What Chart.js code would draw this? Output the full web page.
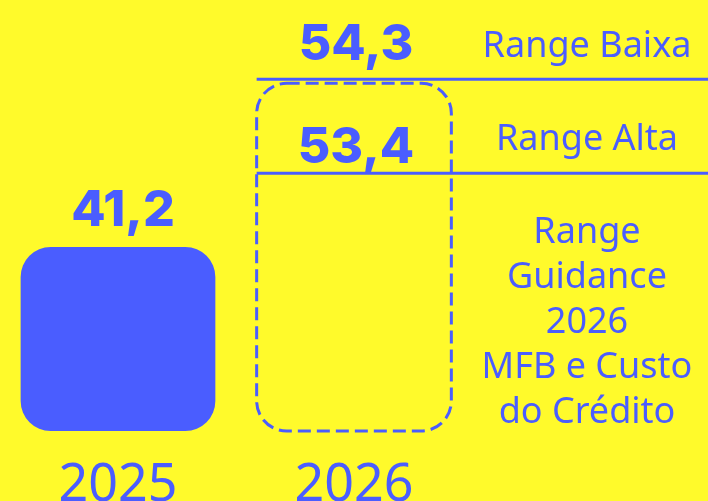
<!DOCTYPE html>
<html>

<head>
    <title>Guidance 2026</title>
    <script src="https://cdn.jsdelivr.net/npm/chart.js"></script>
    <style>
        body {
            margin: 0;
            background: #FFFA2B;
        }

        .chart-box {
            width: 708px;
            height: 501px;
        }
    </style>
</head>

<body>
    <div class="chart-box">
        <canvas id="chart"></canvas>
    </div>

    <script>
        // data
        const categories = ['2025', '2026', ''];
        const actual2025 = [41.2, null, null];
        const guidance2026 = [null, 54.3, null];
        const rangeValues = [54.3, 53.4];
        const rangeLabels = ['Range Baixa', 'Range Alta'];
        const noteLines = ['Range', 'Guidance', '2026', 'MFB e Custo', 'do Crédito'];

        const BLUE = '#4A5DFF';
        const Y2_MIN = 50.93;
        const Y2_MAX = 55.06;

        const fmt = v => v.toLocaleString('pt-BR', { minimumFractionDigits: 1, maximumFractionDigits: 1 });

        const overlay = {
            id: 'overlay',
            afterDatasetsDraw(chart) {
                const ctx = chart.ctx;
                const area = chart.chartArea;
                const y2 = chart.scales.y2;
                const x = chart.scales.x;

                // dashed guidance box
                const box = chart.getDatasetMeta(1).data[1];
                const left = box.x - box.width / 2;
                const right = box.x + box.width / 2;
                const top = box.y + 4;
                const bottom = box.base;
                ctx.save();
                ctx.strokeStyle = BLUE;
                ctx.lineWidth = 3;
                ctx.setLineDash([13, 6]);
                ctx.beginPath();
                ctx.roundRect(left, top, right - left, bottom - top, 30);
                ctx.stroke();
                ctx.restore();

                // range lines
                ctx.save();
                ctx.strokeStyle = BLUE;
                ctx.lineWidth = 3;
                rangeValues.forEach(v => {
                    const py = y2.getPixelForValue(v);
                    ctx.beginPath();
                    ctx.moveTo(left, py);
                    ctx.lineTo(chart.width, py);
                    ctx.stroke();
                });
                ctx.restore();

                ctx.save();
                ctx.fillStyle = BLUE;
                ctx.textAlign = 'center';
                ctx.textBaseline = 'middle';

                // value labels
                ctx.font = '800 50px Inter, "DejaVu Sans", sans-serif';
                const bar = chart.getDatasetMeta(0).data[0];
                ctx.fillText(fmt(actual2025[0]), bar.x + 5, bar.y - 36);
                ctx.fillText(fmt(rangeValues[0]), box.x + 2, y2.getPixelForValue(rangeValues[0]) - 34);
                ctx.fillText(fmt(rangeValues[1]), box.x + 2, y2.getPixelForValue(rangeValues[1]) - 25);

                // right column labels
                const cx = x.getPixelForValue(2) - 3;
                ctx.font = '36px "Noto Sans", sans-serif';
                rangeValues.forEach((v, i) => {
                    ctx.fillText(rangeLabels[i], cx, y2.getPixelForValue(v) - 33);
                });
                const mid = (y2.getPixelForValue(rangeValues[1]) + area.bottom) / 2 + 21;
                const step = 45;
                noteLines.forEach((t, i) => {
                    ctx.fillText(t, cx, mid + (i - (noteLines.length - 1) / 2) * step);
                });
                ctx.restore();
            }
        };

        new Chart(document.getElementById('chart'), {
            type: 'bar',
            data: {
                labels: categories,
                datasets: [{
                    label: '2025',
                    data: actual2025,
                    yAxisID: 'y',
                    backgroundColor: BLUE,
                    borderWidth: 0,
                    borderRadius: 30,
                    borderSkipped: false
                }, {
                    label: 'Guidance 2026',
                    data: guidance2026,
                    yAxisID: 'y2',
                    base: Y2_MIN,
                    backgroundColor: 'rgba(0,0,0,0)',
                    borderWidth: 0
                }]
            },
            options: {
                responsive: true,
                maintainAspectRatio: false,
                animation: false,
                layout: { padding: 0 },
                datasets: {
                    bar: {
                        grouped: false,
                        categoryPercentage: 1,
                        barPercentage: 0.825
                    }
                },
                plugins: {
                    legend: { display: false },
                    tooltip: { enabled: false }
                },
                scales: {
                    x: {
                        grid: { display: false, drawTicks: false },
                        border: { display: false },
                        ticks: {
                            color: BLUE,
                            padding: 24,
                            font: { family: '"Noto Sans", sans-serif', size: 52 }
                        },
                        afterFit(axis) {
                            axis.height = 70;
                        }
                    },
                    y: {
                        display: false,
                        min: 0,
                        max: 96.5
                    },
                    y2: {
                        display: false,
                        min: Y2_MIN,
                        max: Y2_MAX
                    }
                }
            },
            plugins: [overlay]
        });
    </script>
</body>

</html>
